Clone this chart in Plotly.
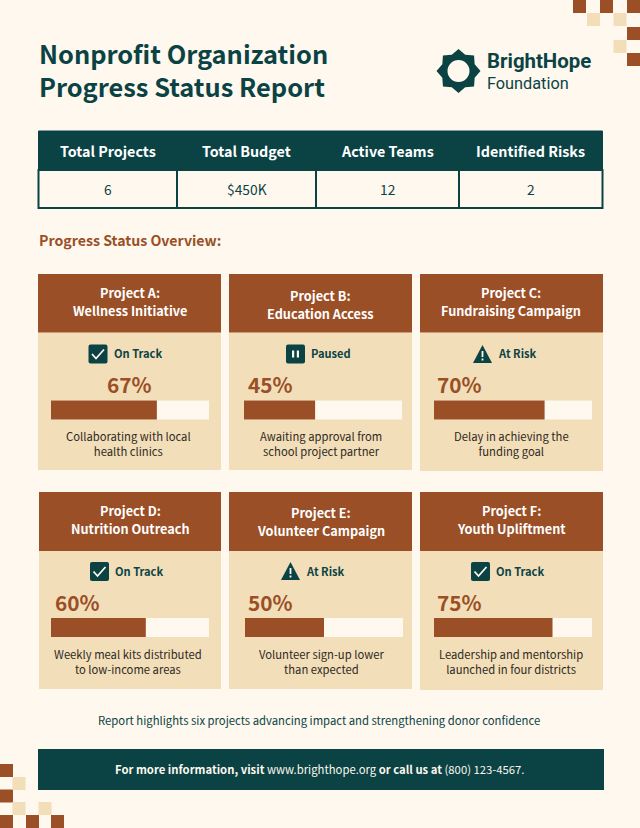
import math

import plotly.graph_objects as go

# ------------------------------------------------------
# Data
# ------------------------------------------------------
summary_labels = ["Total Projects", "Total Budget", "Active Teams", "Identified Risks"]
summary_values = ["6", "$450K", "12", "2"]

project_titles = ["Project A:", "Project B:", "Project C:", "Project D:", "Project E:", "Project F:"]
project_names = [
    "Wellness Initiative",
    "Education Access",
    "Fundraising Campaign",
    "Nutrition Outreach",
    "Volunteer Campaign",
    "Youth Upliftment",
]
project_status = ["On Track", "Paused", "At Risk", "On Track", "At Risk", "On Track"]
project_progress = [67, 45, 70, 60, 50, 75]
project_notes = [
    "Collaborating with local<br>health clinics",
    "Awaiting approval from<br>school project partner",
    "Delay in achieving the<br>funding goal",
    "Weekly meal kits distributed<br>to low-income areas",
    "Volunteer sign-up lower<br>than expected",
    "Leadership and mentorship<br>launched in four districts",
]

# ------------------------------------------------------
# Page geometry, in page pixels
# ------------------------------------------------------
W, H = 640, 828
BG = "#fef8ee"
TEAL = "#0b4345"
BROWN = "#9a4f27"
BEIGE = "#f2deb8"
INK = "#2f2a24"
FONT = "Noto Sans CJK SC"
LOGO_FONT = "Roboto"

# x0, x1, top, header bottom, bottom
cards = [
    (38, 221, 274, 332.5, 470),
    (229, 412, 274, 332.5, 470),
    (420, 603, 274, 332.5, 471),
    (39, 221, 492, 551, 689),
    (229, 412, 492, 551, 689),
    (420, 603, 492, 551, 690),
]
header_x = [129.5, 320.5, 511, 130, 320.5, 511]
header_y = [(293, 311), (296, 314), (293, 311), (511, 529), (513, 531), (511, 529)]
icon_x = [88.5, 286, 473, 90, 281, 471]
icon_y = [344.5, 344.5, 345, 562, 562, 562]
status_x = [114, 311, 498, 115, 306, 496]
status_y = [354, 354, 354, 571.5, 571.5, 571.5]
pct_x = [129.5, 270, 459.5, 77.5, 270.5, 459.5]
pct_y = [385, 385, 385, 602.5, 602.5, 602.5]
track_x = [(51, 209), (244, 402), (434, 592), (51, 209), (245, 403), (434, 592)]
track_y = [410, 410, 410, 627.5, 627.5, 627.5]
note_x = [128.5, 321, 511.5, 128, 321, 511]
note_y = [444.5, 444.5, 444.5, 662, 662, 662]
ICON = 19

table_cols = [38.5, 177, 316, 459, 602.5]
table_y = [131, 170, 208]

tiles_brown = [
    (573, 0), (600, 0), (627, 0), (627, 27), (627, 53),
    (0, 764), (0, 789.5), (0, 815), (26, 815), (51, 815),
]
tiles_beige = [(587, 13), (613.5, 13), (613.5, 40), (12.5, 777), (12.5, 802), (38.5, 802)]
TILE = 13

fig = go.Figure()
shapes = []
annotations = []


def rect(x0, y0, x1, y1, fill, line=None, width=0):
    shapes.append(dict(
        type="rect", xref="x", yref="y", x0=x0, y0=y0, x1=x1, y1=y1,
        fillcolor=fill, line=dict(color=line or fill, width=width), layer="below",
    ))


def path(d, fill="rgba(0,0,0,0)", line=None, width=0):
    shapes.append(dict(
        type="path", xref="x", yref="y", path=d, fillcolor=fill,
        line=dict(color=line or fill, width=width), layer="below",
    ))


def label(x, y, text, size, color, anchor="center", family=FONT):
    # left anchored text sits about 2px inside its box, and all text about 1px low
    annotations.append(dict(
        xref="x", yref="y", x=x - 2 if anchor == "left" else x, y=y - 1,
        text=text, showarrow=False, xanchor=anchor, yanchor="middle", align=anchor,
        font=dict(family=family, size=size, color=color),
    ))


# ------------------------------------------------------
# Corner tiles
# ------------------------------------------------------
for tx, ty in tiles_brown:
    rect(tx, ty, tx + TILE, ty + TILE, BROWN)
for tx, ty in tiles_beige:
    rect(tx, ty, tx + TILE, ty + TILE, BEIGE)

# ------------------------------------------------------
# Title and logo
# ------------------------------------------------------
label(39, 70, "<b>Nonprofit Organization<br>Progress Status Report</b>", 25.4, TEAL, "left")

logo_cx, logo_cy = 458.5, 71
star = []
for i in range(16):
    r = 22 if i % 2 == 0 else 17.5
    a = math.pi * i / 8 - math.pi / 2
    star.append(f"{logo_cx + r * math.cos(a):.2f},{logo_cy + r * math.sin(a):.2f}")
path("M" + " L".join(star) + " Z", TEAL)
shapes.append(dict(
    type="circle", xref="x", yref="y", x0=logo_cx - 11, y0=logo_cy - 11,
    x1=logo_cx + 11, y1=logo_cy + 11, fillcolor=BG, line=dict(width=0), layer="below",
))
label(487, 62, "<b>BrightHope</b>", 20.4, TEAL, "left", LOGO_FONT)
label(487, 84, "Foundation", 16.3, TEAL, "left", LOGO_FONT)

# ------------------------------------------------------
# Summary table
# ------------------------------------------------------
rect(table_cols[0], table_y[0], table_cols[-1], table_y[1], TEAL, TEAL, 1)
rect(table_cols[0], table_y[1], table_cols[-1], table_y[2], BG, TEAL, 2)
for cx in table_cols[1:-1]:
    shapes.append(dict(
        type="line", xref="x", yref="y", x0=cx, x1=cx, y0=table_y[1], y1=table_y[2],
        line=dict(color=TEAL, width=2), layer="below",
    ))
for i, (head, value) in enumerate(zip(summary_labels, summary_values)):
    cx = (table_cols[i] + table_cols[i + 1]) / 2
    label(cx, 151.5, f"<b>{head}</b>", 14.3, "#ffffff")
    label(cx, 190, value, 13.8, TEAL)

label(39, 241, "<b>Progress Status Overview:</b>", 14.15, BROWN, "left")

# ------------------------------------------------------
# Project cards
# ------------------------------------------------------
for i, (x0, x1, top, mid, bottom) in enumerate(cards):
    rect(x0, mid, x1, bottom, BEIGE)
    rect(x0, top, x1, mid, BROWN)

    label(header_x[i], header_y[i][0], f"<b>{project_titles[i]}</b>", 12.7, "#ffffff")
    label(header_x[i], header_y[i][1], f"<b>{project_names[i]}</b>", 12.7, "#ffffff")

    ix, iy = icon_x[i], icon_y[i]
    status = project_status[i]
    if status == "At Risk":
        path(f"M{ix + 9.5},{iy} L{ix + 19},{iy + 18} L{ix},{iy + 18} Z", TEAL)
        rect(ix + 8.6, iy + 6, ix + 10.4, iy + 12, BG)
        rect(ix + 8.6, iy + 13.5, ix + 10.4, iy + 15.5, BG)
    else:
        r = 2
        path(
            f"M{ix + r},{iy} L{ix + ICON - r},{iy} Q{ix + ICON},{iy} {ix + ICON},{iy + r} "
            f"L{ix + ICON},{iy + ICON - r} Q{ix + ICON},{iy + ICON} {ix + ICON - r},{iy + ICON} "
            f"L{ix + r},{iy + ICON} Q{ix},{iy + ICON} {ix},{iy + ICON - r} "
            f"L{ix},{iy + r} Q{ix},{iy} {ix + r},{iy} Z",
            TEAL,
        )
        if status == "On Track":
            path(
                f"M{ix + 3.5},{iy + 9.5} L{ix + 7.5},{iy + 14} L{ix + 15.5},{iy + 5}",
                line=BG, width=1.8,
            )
        else:
            rect(ix + 6, iy + 6, ix + 8.2, iy + 13, BG)
            rect(ix + 10.8, iy + 6, ix + 13, iy + 13, BG)

    label(status_x[i], status_y[i], f"<b>{status}</b>", 11.1, TEAL, "left")
    label(pct_x[i], pct_y[i], f"<b>{project_progress[i]}%</b>", 20.8, BROWN)
    label(note_x[i], note_y[i], project_notes[i], 11.25, INK)

# ------------------------------------------------------
# Progress bars: one 0-100 x axis per card
# ------------------------------------------------------
axes = {}
for i, value in enumerate(project_progress):
    name = f"x{i + 2}"
    axes[f"xaxis{i + 2}"] = dict(
        domain=[track_x[i][0] / W, track_x[i][1] / W],
        range=[0, 100], anchor="y", visible=False, fixedrange=True,
    )
    fig.add_trace(go.Bar(
        x=[100], y=[track_y[i]], orientation="h", width=19, xaxis=name, yaxis="y",
        marker=dict(color=BG, line=dict(width=0)), showlegend=False, hoverinfo="skip",
    ))
    fig.add_trace(go.Bar(
        x=[value], y=[track_y[i]], orientation="h", width=19, xaxis=name, yaxis="y",
        marker=dict(color=BROWN, line=dict(width=0)), showlegend=False,
        name=project_names[i],
    ))

# ------------------------------------------------------
# Footer
# ------------------------------------------------------
label(319, 721, "Report highlights six projects advancing impact and strengthening donor confidence", 11.3, TEAL)
rect(38, 749, 604, 790, TEAL)
label(
    319, 770,
    "<b>For more information, visit</b> www.brighthope.org <b>or call us at</b> (800) 123-4567.",
    11.3, BG,
)

fig.update_layout(
    width=W,
    height=H,
    margin=dict(l=0, r=0, t=0, b=0),
    paper_bgcolor=BG,
    plot_bgcolor="rgba(0,0,0,0)",
    barmode="overlay",
    showlegend=False,
    xaxis=dict(range=[0, W], domain=[0, 1], visible=False, fixedrange=True),
    yaxis=dict(range=[H, 0], domain=[0, 1], visible=False, fixedrange=True),
    shapes=shapes,
    annotations=annotations,
    **axes,
)

fig.write_html(
    "out.html",
    config={"displayModeBar": False},
    post_script="document.body.style.margin='0';",
)
